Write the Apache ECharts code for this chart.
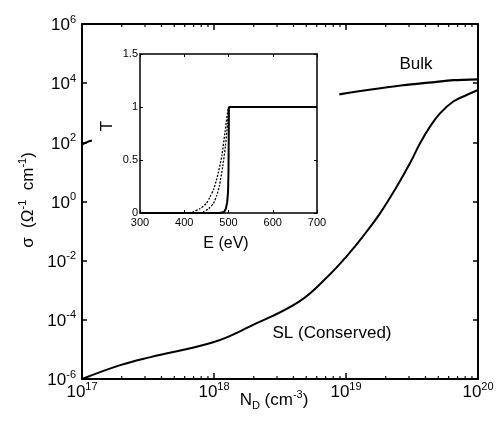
<!DOCTYPE html>
<html>
<head>
<meta charset="utf-8">
<script src="https://cdn.jsdelivr.net/npm/echarts@6/dist/echarts.min.js"></script>
<style>
  html, body { margin: 0; padding: 0; background: #fff; }
  #chart { width: 500px; height: 426px; }
</style>
</head>
<body>
<div id="chart"></div>
<script>
// main panel: conductivity vs doping
const ndSL = [1e17, 1.95e17, 3.31e17, 1e18, 1.86e18, 4.47e18, 7.57e18, 1.01e19, 1.35e19, 1.81e19, 2.42e19, 3.05e19, 3.64e19, 4.33e19, 5.15e19, 6.5e19, 8.2e19, 1e20]
const sigmaSL = [1e-6, 2.95e-6, 5.5e-6, 1.78e-5, 5.9e-5, 4.3e-4, 3.5e-3, 1.4e-2, 6.8e-2, 0.398, 3.16, 19.5, 93, 339, 955, 2400, 3980, 5890]

const ndBulk = [8.9e18, 1.5e19, 2.7e19, 4.5e19, 6.5e19, 1e20]
const sigmaBulk = [4170, 6000, 8500, 10700, 12600, 13500]

const ndBulkStub = [1e17, 1.08e17, 1.19e17]
const sigmaBulkStub = [83, 100, 115]

const xMinorTicks = [2e17, 3e17, 4e17, 5e17, 6e17, 7e17, 8e17, 9e17,
  2e18, 3e18, 4e18, 5e18, 6e18, 7e18, 8e18, 9e18,
  2e19, 3e19, 4e19, 5e19, 6e19, 7e19, 8e19, 9e19]

// inset: transmission vs energy
const eSolid = [300, 480, 490, 494, 497, 499, 500, 501, 700]
const tSolid = [0, 0, 0.01, 0.04, 0.1, 0.2, 0.4, 1, 1]
const eDashOuter = [300, 410, 420, 435, 450, 458, 466, 472, 477, 485, 492, 498, 500]
const tDashOuter = [0, 0, 0.01, 0.04, 0.09, 0.15, 0.22, 0.3, 0.38, 0.54, 0.76, 0.95, 1]
const eDashInner = [300, 435, 443, 455, 466, 473, 479, 487, 493, 498, 500]
const tDashInner = [0, 0, 0.01, 0.04, 0.09, 0.16, 0.25, 0.44, 0.63, 0.85, 1]

const FONT = "'Liberation Sans', Arial, sans-serif"
const pairs = (xs, ys) => xs.map((x, i) => [x, ys[i]])

const powRich = {
  b: { fontSize: 17, fontFamily: FONT, color: '#000', lineHeight: 20, verticalAlign: 'bottom' },
  s: { fontSize: 11, fontFamily: FONT, color: '#000', lineHeight: 10, verticalAlign: 'top' }
}
const powLabel = v => '{b|10}{s|' + Math.round(Math.log10(v)) + '}'

const chart = echarts.init(document.getElementById('chart'))

const mainAxisLine = { onZero: false, lineStyle: { color: '#000', width: 2 } }
const insetAxisLine = { onZero: false, lineStyle: { color: '#000', width: 1.5 } }
const mainTick = { inside: true, length: 6, lineStyle: { color: '#000', width: 1.5 } }
const insetTick = { inside: true, length: 3, lineStyle: { color: '#000' } }
const insetLabel = { color: '#000', fontSize: 11, fontFamily: FONT }

const option = {
  animation: false,
  backgroundColor: '#fff',
  grid: [
    { left: 82, top: 24, width: 396, height: 355 },
    { left: 140, top: 54, width: 177, height: 159 }
  ],
  xAxis: [
    {
      type: 'log', gridIndex: 0, min: 1e17, max: 1e20, logBase: 10,
      axisLine: mainAxisLine, axisTick: mainTick,
      axisLabel: { formatter: powLabel, rich: powRich, margin: 2 },
      splitLine: { show: false }
    },
    {
      type: 'log', gridIndex: 0, min: 1e17, max: 1e20, logBase: 10, position: 'top',
      axisLine: mainAxisLine, axisTick: mainTick,
      axisLabel: { show: false }, splitLine: { show: false }
    },
    {
      type: 'value', gridIndex: 1, min: 300, max: 700, interval: 100,
      axisLine: insetAxisLine, axisTick: insetTick,
      axisLabel: { ...insetLabel, margin: 4 },
      splitLine: { show: false }
    },
    {
      type: 'value', gridIndex: 1, min: 300, max: 700, interval: 100, position: 'top',
      axisLine: insetAxisLine, axisTick: insetTick,
      axisLabel: { show: false }, splitLine: { show: false }
    }
  ],
  yAxis: [
    {
      type: 'log', gridIndex: 0, min: 1e-6, max: 1e6, logBase: 100,
      axisLine: mainAxisLine,
      axisTick: { ...mainTick, length: 5 },
      axisLabel: { formatter: powLabel, rich: powRich, margin: 6 },
      splitLine: { show: false }
    },
    {
      type: 'log', gridIndex: 0, min: 1e-6, max: 1e6, logBase: 100, position: 'right',
      axisLine: mainAxisLine,
      axisTick: { ...mainTick, length: 5 },
      axisLabel: { show: false }, splitLine: { show: false }
    },
    {
      type: 'value', gridIndex: 1, min: 0, max: 1.5, interval: 0.5,
      axisLine: insetAxisLine, axisTick: insetTick,
      axisLabel: { ...insetLabel, margin: 2 },
      splitLine: { show: false }
    },
    {
      type: 'value', gridIndex: 1, min: 0, max: 1.5, interval: 0.5, position: 'right',
      axisLine: insetAxisLine, axisTick: insetTick,
      axisLabel: { show: false }, splitLine: { show: false }
    }
  ],
  graphic: [
    {
      type: 'text', x: 27, y: 200, rotation: Math.PI / 2,
      style: {
        text: '{b|σ  (Ω}{s|-1}{b|  cm}{s|-1}{b|)}',
        align: 'center', verticalAlign: 'middle',
        rich: powRich
      }
    },
    {
      type: 'text', x: 274, y: 400,
      style: {
        text: '{b|N}{d|D}{b| (cm}{s|-3}{b|)}',
        align: 'center', verticalAlign: 'middle',
        rich: {
          b: { fontSize: 17, fontFamily: FONT, color: '#000', lineHeight: 22, verticalAlign: 'middle' },
          s: { fontSize: 11, fontFamily: FONT, color: '#000', lineHeight: 10, verticalAlign: 'top' },
          d: { fontSize: 11, fontFamily: FONT, color: '#000', lineHeight: 10, verticalAlign: 'bottom' }
        }
      }
    },
    {
      type: 'text', x: 226, y: 244,
      style: { text: 'E (eV)', font: '16px ' + FONT, fill: '#000', align: 'center', verticalAlign: 'middle' }
    },
    {
      type: 'text', x: 107, y: 126, rotation: Math.PI / 2,
      style: { text: 'T', font: '17px ' + FONT, fill: '#000', align: 'center', verticalAlign: 'middle' }
    },
    {
      type: 'text', x: 416, y: 64,
      style: { text: 'Bulk', font: '17px ' + FONT, fill: '#000', align: 'center', verticalAlign: 'middle' }
    },
    {
      type: 'text', x: 332, y: 333,
      style: { text: 'SL (Conserved)', font: '17px ' + FONT, fill: '#000', align: 'center', verticalAlign: 'middle' }
    }
  ],
  series: [
    {
      name: 'SL (Conserved)', type: 'line', xAxisIndex: 0, yAxisIndex: 0,
      data: pairs(ndSL, sigmaSL), smooth: 0.4, showSymbol: false,
      lineStyle: { color: '#000', width: 2 }
    },
    {
      name: 'Bulk', type: 'line', xAxisIndex: 0, yAxisIndex: 0,
      data: pairs(ndBulk, sigmaBulk), smooth: 0.3, showSymbol: false,
      lineStyle: { color: '#000', width: 2.2 }
    },
    {
      name: 'Bulk (stub)', type: 'line', xAxisIndex: 0, yAxisIndex: 0,
      data: pairs(ndBulkStub, sigmaBulkStub), smooth: true, showSymbol: false,
      lineStyle: { color: '#000', width: 2 }
    },
    {
      // minor ticks of the log x axis, at 2..9 of each decade
      type: 'custom', xAxisIndex: 0, yAxisIndex: 0, clip: false, silent: true,
      data: xMinorTicks.map(v => [v, 1]),
      encode: { x: 0, y: 1 },
      renderItem: (params, api) => {
        const x = api.coord([api.value(0), 1])[0]
        const cs = params.coordSys
        const bottom = cs.y + cs.height
        const style = { stroke: '#000', lineWidth: 1.2 }
        return {
          type: 'group',
          children: [
            { type: 'line', shape: { x1: x, y1: bottom, x2: x, y2: bottom - 3 }, style },
            { type: 'line', shape: { x1: x, y1: cs.y, x2: x, y2: cs.y + 3 }, style }
          ]
        }
      }
    },
    {
      name: 'T outer', type: 'line', xAxisIndex: 2, yAxisIndex: 2,
      data: pairs(eDashOuter, tDashOuter), smooth: 0.2, showSymbol: false,
      lineStyle: { color: '#000', width: 1.3, type: [2, 1.5] }
    },
    {
      name: 'T inner', type: 'line', xAxisIndex: 2, yAxisIndex: 2,
      data: pairs(eDashInner, tDashInner), smooth: 0.2, showSymbol: false,
      lineStyle: { color: '#000', width: 1.3, type: [2, 1.5] }
    },
    {
      name: 'T', type: 'line', xAxisIndex: 2, yAxisIndex: 2,
      data: pairs(eSolid, tSolid), showSymbol: false,
      lineStyle: { color: '#000', width: 2 }
    }
  ]
}

chart.setOption(option)
window.addEventListener('resize', () => chart.resize())
</script>
</body>
</html>
